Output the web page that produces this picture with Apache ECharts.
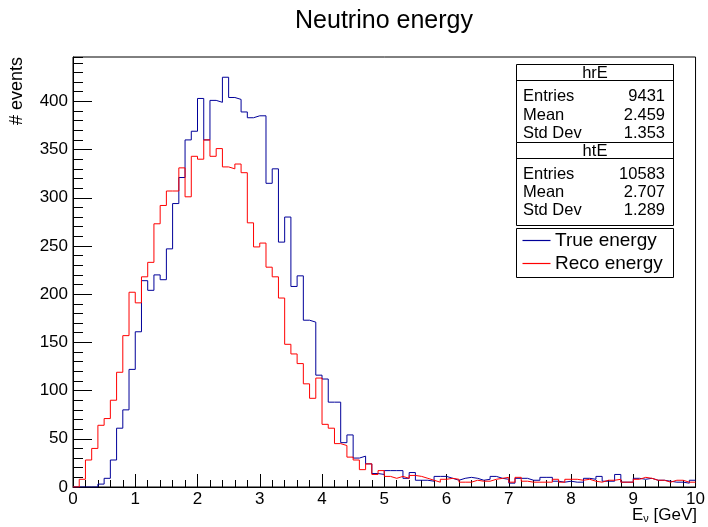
<!DOCTYPE html>
<html>
<head>
<meta charset="utf-8">
<script src="https://cdn.jsdelivr.net/npm/echarts@6/dist/echarts.min.js"></script>
<style>html,body{margin:0;padding:0;background:#fff;}#c{width:708px;height:527px;}</style>
</head>
<body>
<div id="c"></div>
<script>
// ---- data ----
const titleText = 'Neutrino energy';
const xMin = 0, xMax = 10, binWidth = 0.1;
const yMax = 446;
const xTicks = [0,1,2,3,4,5,6,7,8,9,10];
const yTicks = [0,50,100,150,200,250,300,350,400];
const seriesNames = ['True energy', 'Reco energy'];
const trueCounts = [
  0,0,0,0,3,9,28,61,80,122,
  161,214,204,220,215,247,294,321,360,369,
  403,360,401,399,425,404,402,389,383,385,
  385,315,330,254,280,208,219,173,171,116,
  112,88,88,46,54,30,32,24,14,13,
  17,17,17,9,15,7,7,6,11,11,
  9,7,9,10,9,7,8,11,9,8,
  4,9,9,7,7,10,10,6,5,6,
  5,5,9,8,11,6,6,13,5,5,
  9,8,9,7,7,6,5,5,4,7
];
const recoCounts = [
  0,8,28,40,64,71,90,119,157,202,
  191,218,233,273,292,307,307,331,301,343,
  340,360,343,351,332,330,335,326,274,249,
  253,228,218,196,148,138,128,107,92,113,
  65,61,45,43,31,28,18,24,13,17,
  11,9,11,9,12,11,9,7,5,8,
  9,8,5,5,7,6,6,8,9,10,
  5,10,6,5,5,5,5,8,5,8,
  8,7,8,6,5,7,7,8,5,5,
  8,10,9,7,7,5,7,7,5,5
];
const statNames = ['hrE', 'htE'];
const statRows = ['Entries', 'Mean', 'Std Dev'];
const statValues = [['9431', '2.459', '1.353'], ['10583', '2.707', '1.289']];

// ---- chart ----
function toSteps(counts) {
  const pts = counts.map((v, i) => [+(xMin + i * binWidth).toFixed(3), v]);
  pts.push([xMin + counts.length * binWidth, counts[counts.length - 1]]);
  return pts;
}
const font = 'Liberation Sans, Arial, Helvetica, sans-serif';
const blue = '#000099', red = '#ff0000';

const graphics = [];
graphics.push({type:'text', x:384, y:21, style:{text:titleText, font:'25px ' + font, fill:'#000', align:'center', verticalAlign:'middle'}});
graphics.push({type:'text', x:17, y:57, rotation:Math.PI/2, style:{text:'# events', font:'18px ' + font, fill:'#000', align:'right', verticalAlign:'middle'}});
graphics.push({type:'text', x:697, y:515, style:{text:'{e|E}{s|ν}{e| [GeV]}', align:'right', verticalAlign:'middle',
  rich:{e:{font:'17px ' + font, fill:'#000'}, s:{font:'11px ' + font, fill:'#000', padding:[8,0,0,0]}}}});

// stats boxes
const bx = 516.5, bw = 157;
const boxTops = [64.5, 142.5];
const rowYs = [[96.7, 115, 133.3], [174.3, 192.3, 210.3]];
statNames.forEach((nm, b) => {
  const top = boxTops[b];
  const h = b === 0 ? 78 : 83;
  graphics.push({type:'rect', shape:{x:bx, y:top, width:bw, height:h}, style:{fill:'#fff', stroke:'#000', lineWidth:1}});
  graphics.push({type:'line', shape:{x1:bx, y1:top + 16, x2:bx + bw, y2:top + 16}, style:{stroke:'#000', lineWidth:1}});
  graphics.push({type:'text', x:bx + bw / 2, y:top + 8.5, style:{text:nm, font:'16.5px ' + font, fill:'#000', align:'center', verticalAlign:'middle'}});
  statRows.forEach((r, i) => {
    graphics.push({type:'text', x:523, y:rowYs[b][i], style:{text:r, font:'16.5px ' + font, fill:'#000', align:'left', verticalAlign:'middle'}});
    graphics.push({type:'text', x:665, y:rowYs[b][i], style:{text:statValues[b][i], font:'16.5px ' + font, fill:'#000', align:'right', verticalAlign:'middle'}});
  });
});
// legend box
graphics.push({type:'rect', shape:{x:bx, y:228.5, width:bw, height:49}, style:{fill:'#fff', stroke:'#000', lineWidth:1}});
[[blue, 240.5], [red, 263.5]].forEach(([c, y], i) => {
  graphics.push({type:'line', shape:{x1:522.5, y1:y, x2:550.5, y2:y}, style:{stroke:c, lineWidth:1.2}});
  graphics.push({type:'text', x:555, y:y, style:{text:seriesNames[i], font:'19px ' + font, fill:'#000', align:'left', verticalAlign:'middle'}});
});

const chart = echarts.init(document.getElementById('c'), null, {renderer:'canvas'});
chart.setOption({
  animation:false,
  backgroundColor:'#fff',
  grid:{left:73, right:11, top:57, bottom:40, show:true, borderColor:'#000', borderWidth:1, backgroundColor:'transparent'},
  xAxis:[{
    type:'value', min:xMin, max:xMax, interval:1,
    axisLine:{show:true, onZero:false, lineStyle:{color:'#000', width:1}},
    axisTick:{show:true, inside:true, length:13, lineStyle:{color:'#000'}},
    minorTick:{show:true, splitNumber:5, length:7, lineStyle:{color:'#000'}},
    splitLine:{show:false},
    axisLabel:{color:'#000', fontSize:17, fontFamily:font, margin:4,
      formatter:(v) => xTicks.includes(v) ? String(v) : ''}
  }],
  yAxis:[{
    type:'value', min:0, max:yMax, interval:50,
    axisLine:{show:true, onZero:false, lineStyle:{color:'#000', width:1}},
    axisTick:{show:true, inside:true, length:19, lineStyle:{color:'#000'}},
    splitLine:{show:false},
    axisLabel:{color:'#000', fontSize:17, fontFamily:font, margin:5, showMaxLabel:false,
      formatter:(v) => yTicks.includes(v) ? String(v) : ''}
  },{
    type:'value', min:0, max:yMax, interval:10, position:'left',
    axisLine:{show:false},
    axisTick:{show:true, inside:true, length:10, lineStyle:{color:'#000'}},
    splitLine:{show:false},
    axisLabel:{show:false}
  }],
  series:[
    {name:seriesNames[0], type:'line', step:'end', data:toSteps(trueCounts), showSymbol:false, symbol:'none',
      lineStyle:{color:blue, width:1}, itemStyle:{color:blue}, z:2},
    {name:seriesNames[1], type:'line', step:'end', data:toSteps(recoCounts), showSymbol:false, symbol:'none',
      lineStyle:{color:red, width:1}, itemStyle:{color:red}, z:3}
  ],
  graphic:graphics
});
</script>
</body>
</html>
